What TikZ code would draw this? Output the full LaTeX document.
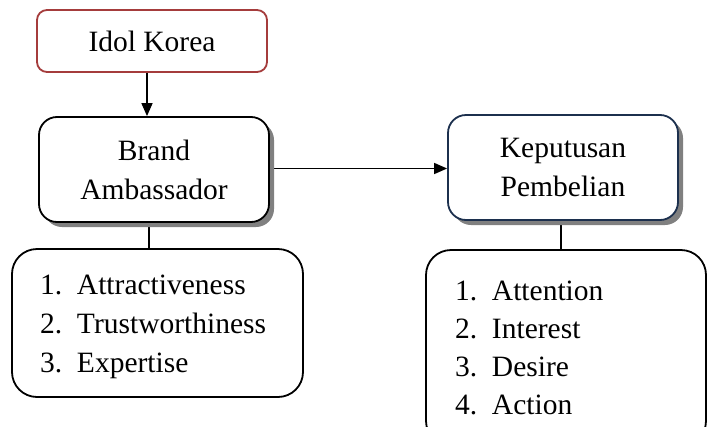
\documentclass[tikz,border=0pt]{standalone}
\usepackage{fontspec}
\setmainfont{Liberation Serif}
\usetikzlibrary{shadows,arrows.meta,backgrounds}
\definecolor{idolred}{RGB}{165,60,60}
\definecolor{navyb}{RGB}{28,48,78}
\begin{document}
\begin{tikzpicture}[x=1pt,y=-1pt,
  every node/.style={font=\fontsize{29.5}{39}\selectfont},
  box/.style={draw, line width=1.8pt, fill=white, inner sep=0pt},
  shad/.style={drop shadow={shadow xshift=5pt,shadow yshift=-5pt,fill=black!50,opacity=1}},
  conn/.style={line width=1.6pt},
  arr/.style={conn,-{Triangle[length=13pt,width=11pt]}}]
\useasboundingbox (0,0) rectangle (707,426);
\clip (0,0) rectangle (707,426);

\node[box, draw=idolred, rounded corners=10pt, minimum width=230pt, minimum height=62pt] (idol) at (152,41) {Idol Korea};
\node[box, shad, rounded corners=18pt, minimum width=230pt, minimum height=105pt, align=center] (ba) at (154,169.5) {Brand\\Ambassador};
\node[box, shad, draw=navyb, rounded corners=18pt, minimum width=230pt, minimum height=105pt, align=center] (kp) at (563,167.5) {Keputusan\\Pembelian};
\node[box, rounded corners=25pt, minimum width=291pt, minimum height=148pt, text width=235pt, inner xsep=28pt, align=left] (la) at (157.5,323)
  {\rule{0pt}{28pt}\makebox[37pt][l]{1.}Attractiveness\\\makebox[37pt][l]{2.}Trustworthiness\\\makebox[37pt][l]{3.}Expertise};
\node[box, rounded corners=25pt, minimum width=280pt, minimum height=196pt, text width=222pt, inner xsep=29pt, align=left, font=\fontsize{29.5}{38}\selectfont] (lb) at (566,348)
  {\makebox[37pt][l]{1.}Attention\\\makebox[37pt][l]{2.}Interest\\\makebox[37pt][l]{3.}Desire\\\makebox[37pt][l]{4.}Action};

\draw[arr] ([xshift=-5pt]idol.south) -- ([xshift=-5pt]idol.south |- ba.north);
\begin{scope}[on background layer]
  \fill[white] (0,0) rectangle (707,426);
  \draw[arr] ([yshift=1pt]ba.east) -- ([yshift=1pt]ba.east -| kp.west);
  \draw[conn] ([xshift=-5pt]ba.south) -- ([xshift=-5pt]ba.south |- la.north);
  \draw[conn] ([xshift=-2pt]kp.south) -- ([xshift=-2pt]kp.south |- lb.north);
\end{scope}
\end{tikzpicture}
\end{document}
